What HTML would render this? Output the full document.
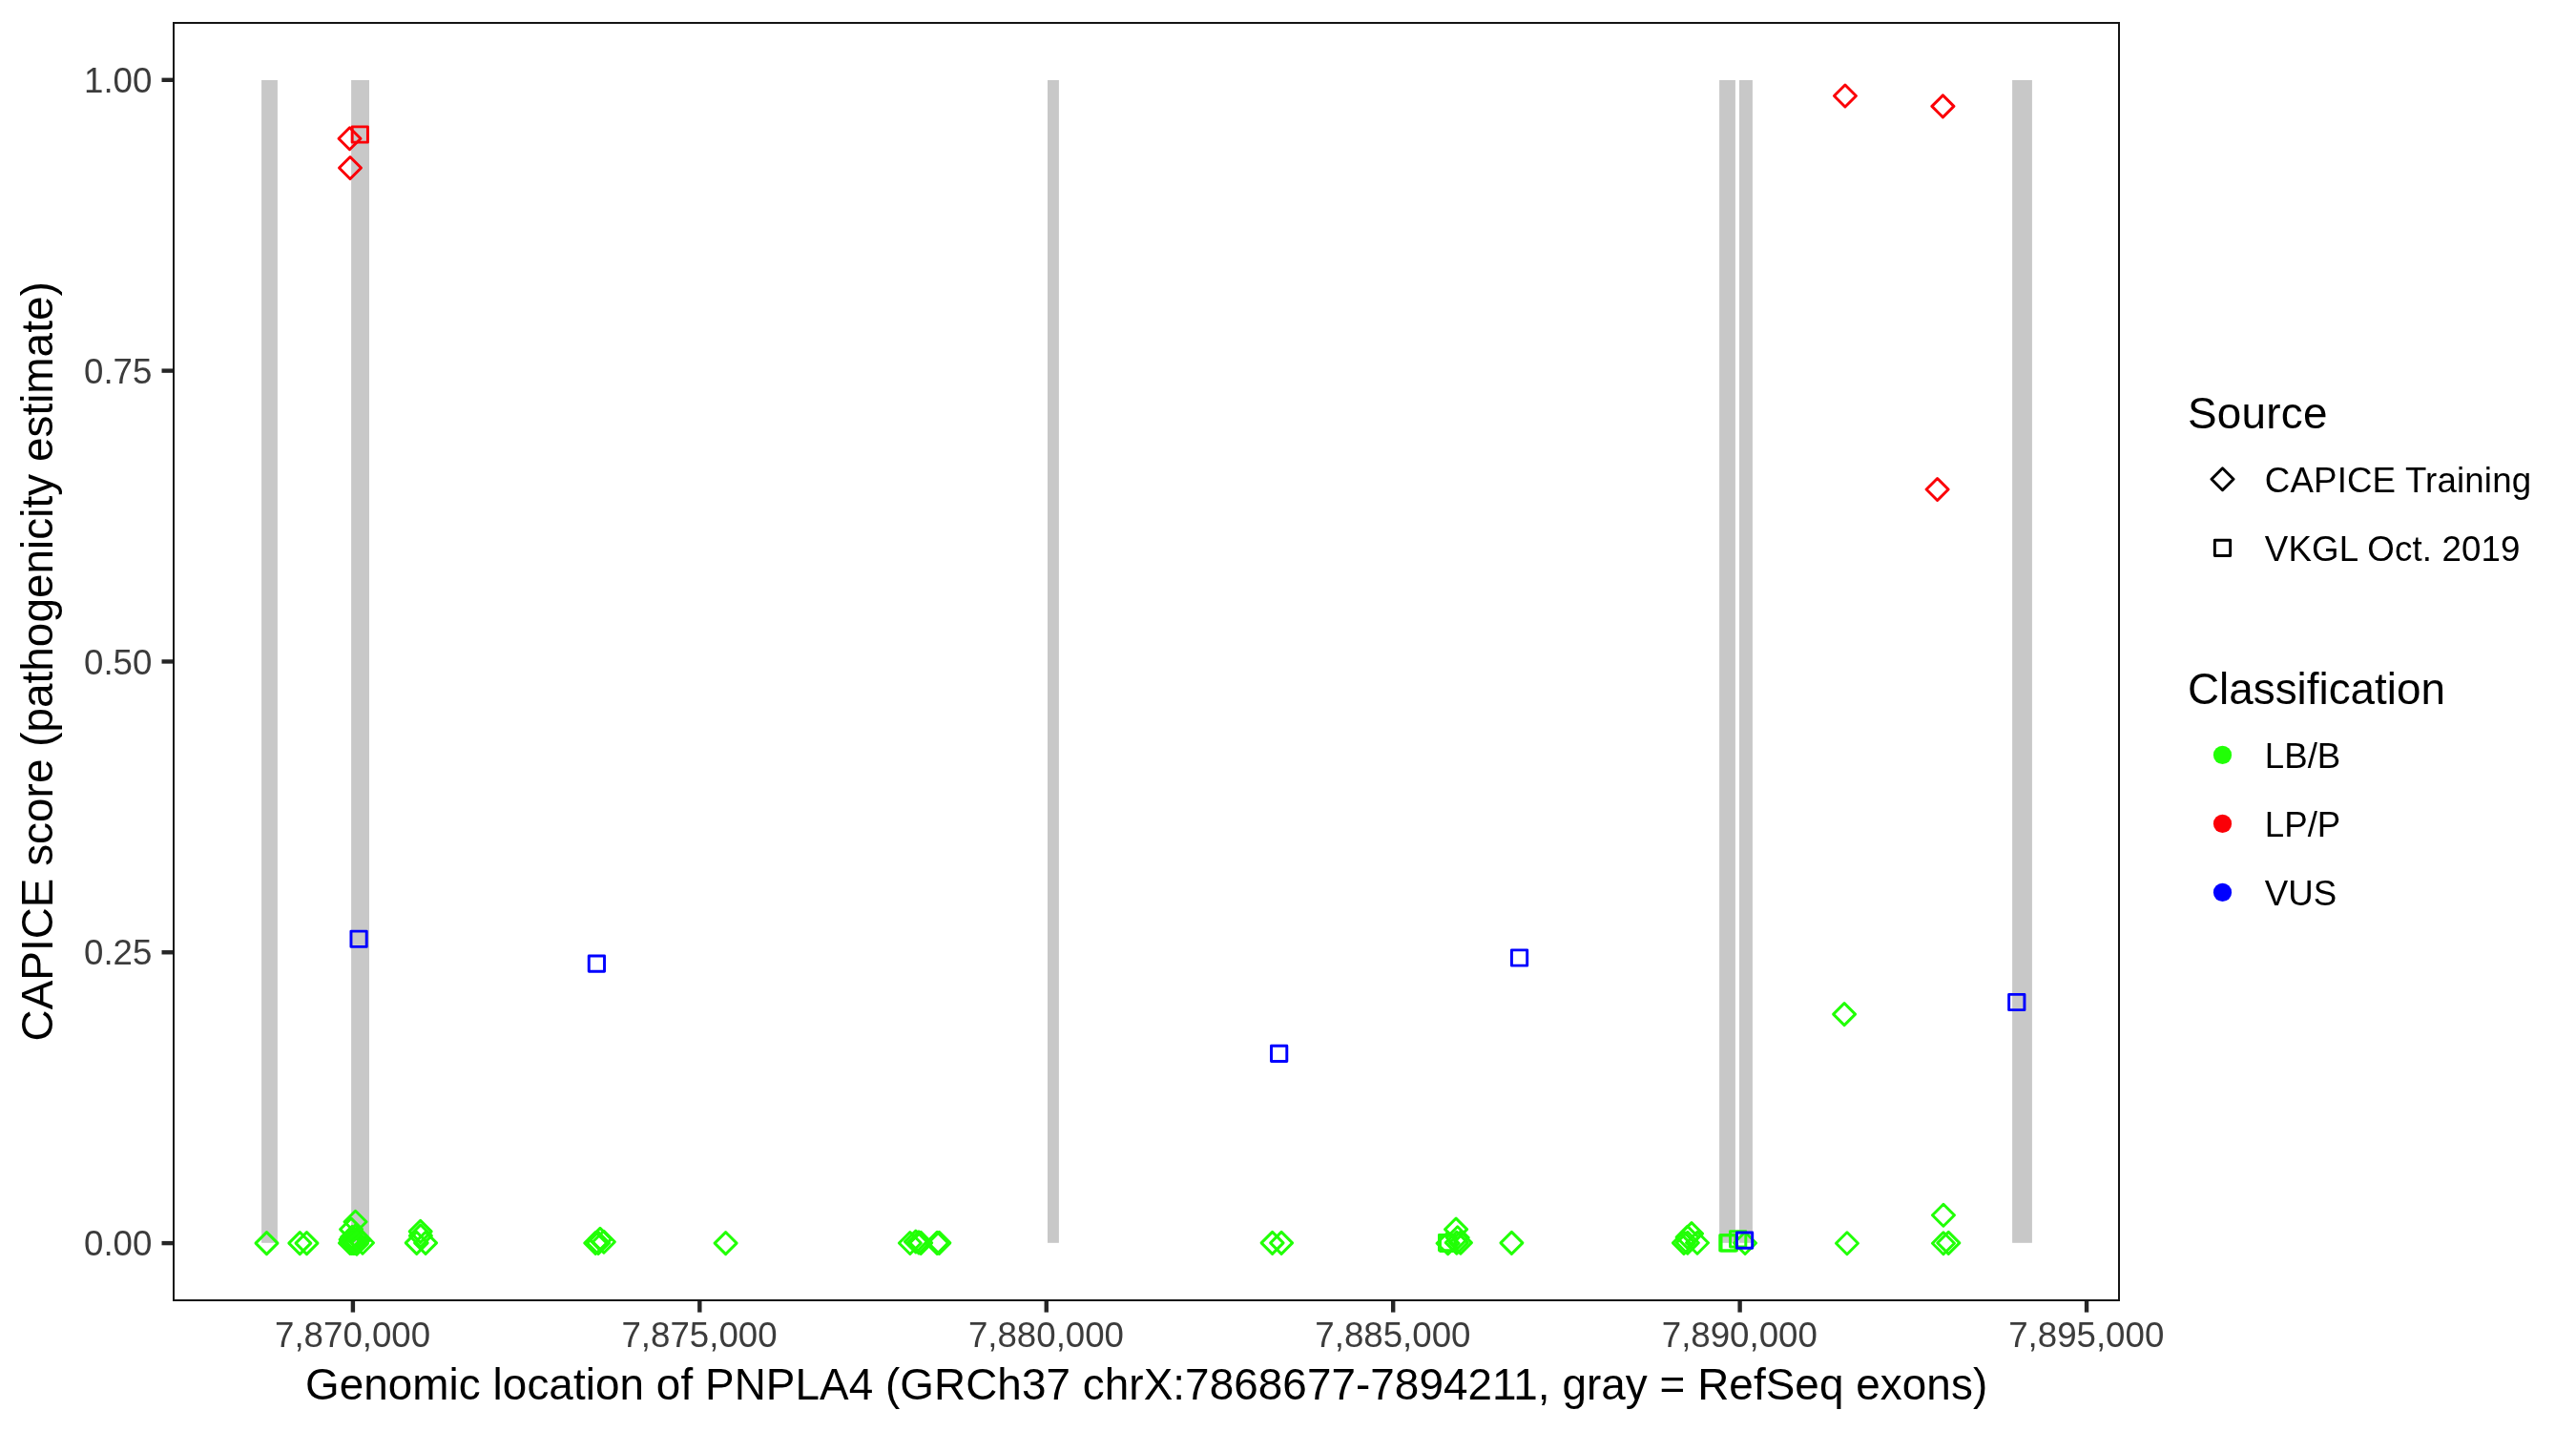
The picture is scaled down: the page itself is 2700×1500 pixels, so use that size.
<!DOCTYPE html>
<html><head><meta charset="utf-8"><title>CAPICE PNPLA4</title>
<style>html,body{margin:0;padding:0;background:#fff;}body{width:2700px;height:1500px;overflow:hidden;}svg{display:block;will-change:transform;}text{font-family:"Liberation Sans",sans-serif;}</style></head><body>
<svg width="2700" height="1500" viewBox="0 0 2700 1500">
<rect x="0" y="0" width="2700" height="1500" fill="#ffffff"/>
<g fill="#c8c8c8">
<rect x="274.1" y="84.0" width="16.80" height="1218.80"/>
<rect x="368.1" y="84.0" width="18.90" height="1218.80"/>
<rect x="1098.0" y="84.0" width="11.90" height="1218.80"/>
<rect x="1802.1" y="84.0" width="16.80" height="1218.80"/>
<rect x="1823.0" y="84.0" width="13.90" height="1218.80"/>
<rect x="2109.1" y="84.0" width="20.80" height="1218.80"/>
</g>
<g fill="none" stroke-width="2.95" stroke-linejoin="round">
<path d="M279.50 1291.59L291.01 1303.10L279.50 1314.61L267.99 1303.10Z" stroke="#21ff06"/>
<path d="M314.30 1291.59L325.81 1303.10L314.30 1314.61L302.79 1303.10Z" stroke="#21ff06"/>
<path d="M321.50 1291.59L333.01 1303.10L321.50 1314.61L309.99 1303.10Z" stroke="#21ff06"/>
<path d="M372.55 1269.29L384.06 1280.80L372.55 1292.31L361.04 1280.80Z" stroke="#21ff06"/>
<path d="M368.10 1277.09L379.61 1288.60L368.10 1300.11L356.59 1288.60Z" stroke="#21ff06"/>
<path d="M369.10 1285.39L380.61 1296.90L369.10 1308.41L357.59 1296.90Z" stroke="#21ff06"/>
<path d="M372.60 1284.09L384.11 1295.60L372.60 1307.11L361.09 1295.60Z" stroke="#21ff06"/>
<path d="M374.60 1286.49L386.11 1298.00L374.60 1309.51L363.09 1298.00Z" stroke="#21ff06"/>
<path d="M376.40 1287.89L387.91 1299.40L376.40 1310.91L364.89 1299.40Z" stroke="#21ff06"/>
<path d="M367.60 1287.89L379.11 1299.40L367.60 1310.91L356.09 1299.40Z" stroke="#21ff06"/>
<path d="M371.80 1288.29L383.31 1299.80L371.80 1311.31L360.29 1299.80Z" stroke="#21ff06"/>
<path d="M370.90 1289.69L382.41 1301.20L370.90 1312.71L359.39 1301.20Z" stroke="#21ff06"/>
<path d="M368.50 1289.99L380.01 1301.50L368.50 1313.01L356.99 1301.50Z" stroke="#21ff06"/>
<path d="M366.90 1291.49L378.41 1303.00L366.90 1314.51L355.39 1303.00Z" stroke="#21ff06"/>
<path d="M368.80 1291.49L380.31 1303.00L368.80 1314.51L357.29 1303.00Z" stroke="#21ff06"/>
<path d="M370.30 1291.49L381.81 1303.00L370.30 1314.51L358.79 1303.00Z" stroke="#21ff06"/>
<path d="M372.00 1291.49L383.51 1303.00L372.00 1314.51L360.49 1303.00Z" stroke="#21ff06"/>
<path d="M373.70 1291.39L385.21 1302.90L373.70 1314.41L362.19 1302.90Z" stroke="#21ff06"/>
<path d="M373.90 1292.09L385.41 1303.60L373.90 1315.11L362.39 1303.60Z" stroke="#21ff06"/>
<path d="M380.05 1291.29L391.56 1302.80L380.05 1314.31L368.54 1302.80Z" stroke="#21ff06"/>
<path d="M440.70 1279.39L452.21 1290.90L440.70 1302.41L429.19 1290.90Z" stroke="#21ff06"/>
<path d="M440.90 1283.89L452.41 1295.40L440.90 1306.91L429.39 1295.40Z" stroke="#21ff06"/>
<path d="M436.70 1291.39L448.21 1302.90L436.70 1314.41L425.19 1302.90Z" stroke="#21ff06"/>
<path d="M446.10 1291.39L457.61 1302.90L446.10 1314.41L434.59 1302.90Z" stroke="#21ff06"/>
<path d="M624.20 1291.49L635.71 1303.00L624.20 1314.51L612.69 1303.00Z" stroke="#21ff06"/>
<path d="M627.10 1291.49L638.61 1303.00L627.10 1314.51L615.59 1303.00Z" stroke="#21ff06"/>
<path d="M632.90 1290.29L644.41 1301.80L632.90 1313.31L621.39 1301.80Z" stroke="#21ff06"/>
<path d="M629.00 1287.39L640.51 1298.90L629.00 1310.41L617.49 1298.90Z" stroke="#21ff06"/>
<path d="M760.60 1291.59L772.11 1303.10L760.60 1314.61L749.09 1303.10Z" stroke="#21ff06"/>
<path d="M953.84 1291.49L965.35 1303.00L953.84 1314.51L942.33 1303.00Z" stroke="#21ff06"/>
<path d="M959.87 1289.99L971.38 1301.50L959.87 1313.01L948.36 1301.50Z" stroke="#21ff06"/>
<path d="M963.00 1290.89L974.51 1302.40L963.00 1313.91L951.49 1302.40Z" stroke="#21ff06"/>
<path d="M965.20 1291.39L976.71 1302.90L965.20 1314.41L953.69 1302.90Z" stroke="#21ff06"/>
<path d="M982.20 1291.39L993.71 1302.90L982.20 1314.41L970.69 1302.90Z" stroke="#21ff06"/>
<path d="M984.40 1291.39L995.91 1302.90L984.40 1314.41L972.89 1302.90Z" stroke="#21ff06"/>
<path d="M1333.60 1291.39L1345.11 1302.90L1333.60 1314.41L1322.09 1302.90Z" stroke="#21ff06"/>
<path d="M1343.10 1291.39L1354.61 1302.90L1343.10 1314.41L1331.59 1302.90Z" stroke="#21ff06"/>
<rect x="1508.46" y="1294.36" width="16.28" height="16.28" stroke="#21ff06"/>
<rect x="1509.46" y="1295.16" width="16.28" height="16.28" stroke="#21ff06"/>
<path d="M1517.60 1291.69L1529.11 1303.20L1517.60 1314.71L1506.09 1303.20Z" stroke="#21ff06"/>
<path d="M1526.80 1291.14L1538.31 1302.65L1526.80 1314.16L1515.29 1302.65Z" stroke="#21ff06"/>
<path d="M1530.90 1291.14L1542.41 1302.65L1530.90 1314.16L1519.39 1302.65Z" stroke="#21ff06"/>
<path d="M1526.10 1277.14L1537.61 1288.65L1526.10 1300.16L1514.59 1288.65Z" stroke="#21ff06"/>
<path d="M1527.70 1285.79L1539.21 1297.30L1527.70 1308.81L1516.19 1297.30Z" stroke="#21ff06"/>
<path d="M1584.40 1291.39L1595.91 1302.90L1584.40 1314.41L1572.89 1302.90Z" stroke="#21ff06"/>
<path d="M1764.90 1291.39L1776.41 1302.90L1764.90 1314.41L1753.39 1302.90Z" stroke="#21ff06"/>
<path d="M1768.80 1291.29L1780.31 1302.80L1768.80 1314.31L1757.29 1302.80Z" stroke="#21ff06"/>
<path d="M1779.00 1291.29L1790.51 1302.80L1779.00 1314.31L1767.49 1302.80Z" stroke="#21ff06"/>
<path d="M1773.00 1281.64L1784.51 1293.15L1773.00 1304.66L1761.49 1293.15Z" stroke="#21ff06"/>
<path d="M1768.70 1285.39L1780.21 1296.90L1768.70 1308.41L1757.19 1296.90Z" stroke="#21ff06"/>
<rect x="1802.76" y="1294.76" width="16.28" height="16.28" stroke="#21ff06"/>
<rect x="1804.06" y="1294.76" width="16.28" height="16.28" stroke="#21ff06"/>
<rect x="1813.51" y="1290.76" width="16.28" height="16.28" stroke="#21ff06"/>
<path d="M1829.10 1291.54L1840.61 1303.05L1829.10 1314.56L1817.59 1303.05Z" stroke="#21ff06"/>
<rect x="1820.41" y="1291.91" width="16.28" height="16.28" stroke="#0000ff"/>
<path d="M1935.96 1291.69L1947.47 1303.20L1935.96 1314.71L1924.45 1303.20Z" stroke="#21ff06"/>
<path d="M2036.96 1262.29L2048.47 1273.80L2036.96 1285.31L2025.45 1273.80Z" stroke="#21ff06"/>
<path d="M2036.96 1291.69L2048.47 1303.20L2036.96 1314.71L2025.45 1303.20Z" stroke="#21ff06"/>
<path d="M2042.30 1291.39L2053.81 1302.90L2042.30 1314.41L2030.79 1302.90Z" stroke="#21ff06"/>
<path d="M1933.10 1051.59L1944.61 1063.10L1933.10 1074.61L1921.59 1063.10Z" stroke="#21ff06"/>
<rect x="369.16" y="132.86" width="16.28" height="16.28" stroke="#fb0007"/>
<path d="M366.50 133.69L378.01 145.20L366.50 156.71L354.99 145.20Z" stroke="#fb0007"/>
<path d="M367.00 164.49L378.51 176.00L367.00 187.51L355.49 176.00Z" stroke="#fb0007"/>
<path d="M1933.96 88.99L1945.47 100.50L1933.96 112.01L1922.45 100.50Z" stroke="#fb0007"/>
<path d="M2036.40 99.89L2047.91 111.40L2036.40 122.91L2024.89 111.40Z" stroke="#fb0007"/>
<path d="M2030.60 501.49L2042.11 513.00L2030.60 524.51L2019.09 513.00Z" stroke="#fb0007"/>
<rect x="367.96" y="976.11" width="16.28" height="16.28" stroke="#0000ff"/>
<rect x="617.26" y="1001.96" width="16.28" height="16.28" stroke="#0000ff"/>
<rect x="1332.51" y="1096.16" width="16.28" height="16.28" stroke="#0000ff"/>
<rect x="1584.41" y="995.86" width="16.28" height="16.28" stroke="#0000ff"/>
<rect x="2105.66" y="1042.36" width="16.28" height="16.28" stroke="#0000ff"/>
</g>
<rect x="182" y="24" width="2039" height="1339" fill="none" stroke="#141414" stroke-width="2"/>
<g stroke="#262626" stroke-width="4.4" stroke-linecap="butt">
<line x1="369.90" y1="1364" x2="369.90" y2="1375.6"/>
<line x1="733.33" y1="1364" x2="733.33" y2="1375.6"/>
<line x1="1096.76" y1="1364" x2="1096.76" y2="1375.6"/>
<line x1="1460.19" y1="1364" x2="1460.19" y2="1375.6"/>
<line x1="1823.62" y1="1364" x2="1823.62" y2="1375.6"/>
<line x1="2187.05" y1="1364" x2="2187.05" y2="1375.6"/>
<line x1="169.5" y1="1303.10" x2="181" y2="1303.10"/>
<line x1="169.5" y1="998.27" x2="181" y2="998.27"/>
<line x1="169.5" y1="693.45" x2="181" y2="693.45"/>
<line x1="169.5" y1="388.62" x2="181" y2="388.62"/>
<line x1="169.5" y1="83.80" x2="181" y2="83.80"/>
</g>
<g fill="#3c3c3c" font-size="36.67px">
<text x="369.60" y="1412" text-anchor="middle">7,870,000</text>
<text x="733.03" y="1412" text-anchor="middle">7,875,000</text>
<text x="1096.46" y="1412" text-anchor="middle">7,880,000</text>
<text x="1459.89" y="1412" text-anchor="middle">7,885,000</text>
<text x="1823.32" y="1412" text-anchor="middle">7,890,000</text>
<text x="2186.75" y="1412" text-anchor="middle">7,895,000</text>
<text x="159.4" y="1316" text-anchor="end">0.00</text>
<text x="159.4" y="1011" text-anchor="end">0.25</text>
<text x="159.4" y="707" text-anchor="end">0.50</text>
<text x="159.4" y="402" text-anchor="end">0.75</text>
<text x="159.4" y="97" text-anchor="end">1.00</text>
</g>
<g fill="#000000" font-size="45.83px">
<text x="1201.55" y="1467" text-anchor="middle" textLength="1763.2" lengthAdjust="spacing">Genomic location of PNPLA4 (GRCh37 chrX:7868677-7894211, gray = RefSeq exons)</text>
<text transform="translate(55 693.4) rotate(-90)" text-anchor="middle" textLength="796.2" lengthAdjust="spacing">CAPICE score (pathogenicity estimate)</text>
<text x="2293" y="449" textLength="146.4" lengthAdjust="spacing">Source</text>
<text x="2293" y="738">Classification</text>
</g>
<g fill="none" stroke="#000000" stroke-width="2.95" stroke-linejoin="round">
<path d="M2329.50 490.79L2341.01 502.30L2329.50 513.81L2317.99 502.30Z" stroke="#000000"/>
<rect x="2321.36" y="566.16" width="16.28" height="16.28" stroke="#000000"/>
</g>
<circle cx="2329.5" cy="791.4" r="9.6" fill="#21ff06"/>
<circle cx="2329.5" cy="863.4" r="9.6" fill="#fb0007"/>
<circle cx="2329.5" cy="935.4" r="9.6" fill="#0000ff"/>
<g fill="#000000" font-size="36.67px">
<text x="2373.8" y="516" textLength="279.3" lengthAdjust="spacing">CAPICE Training</text>
<text x="2373.8" y="588" textLength="267.7" lengthAdjust="spacing">VKGL Oct. 2019</text>
<text x="2373.8" y="805">LB/B</text>
<text x="2373.8" y="877">LP/P</text>
<text x="2373.8" y="949">VUS</text>
</g>
</svg></body></html>
